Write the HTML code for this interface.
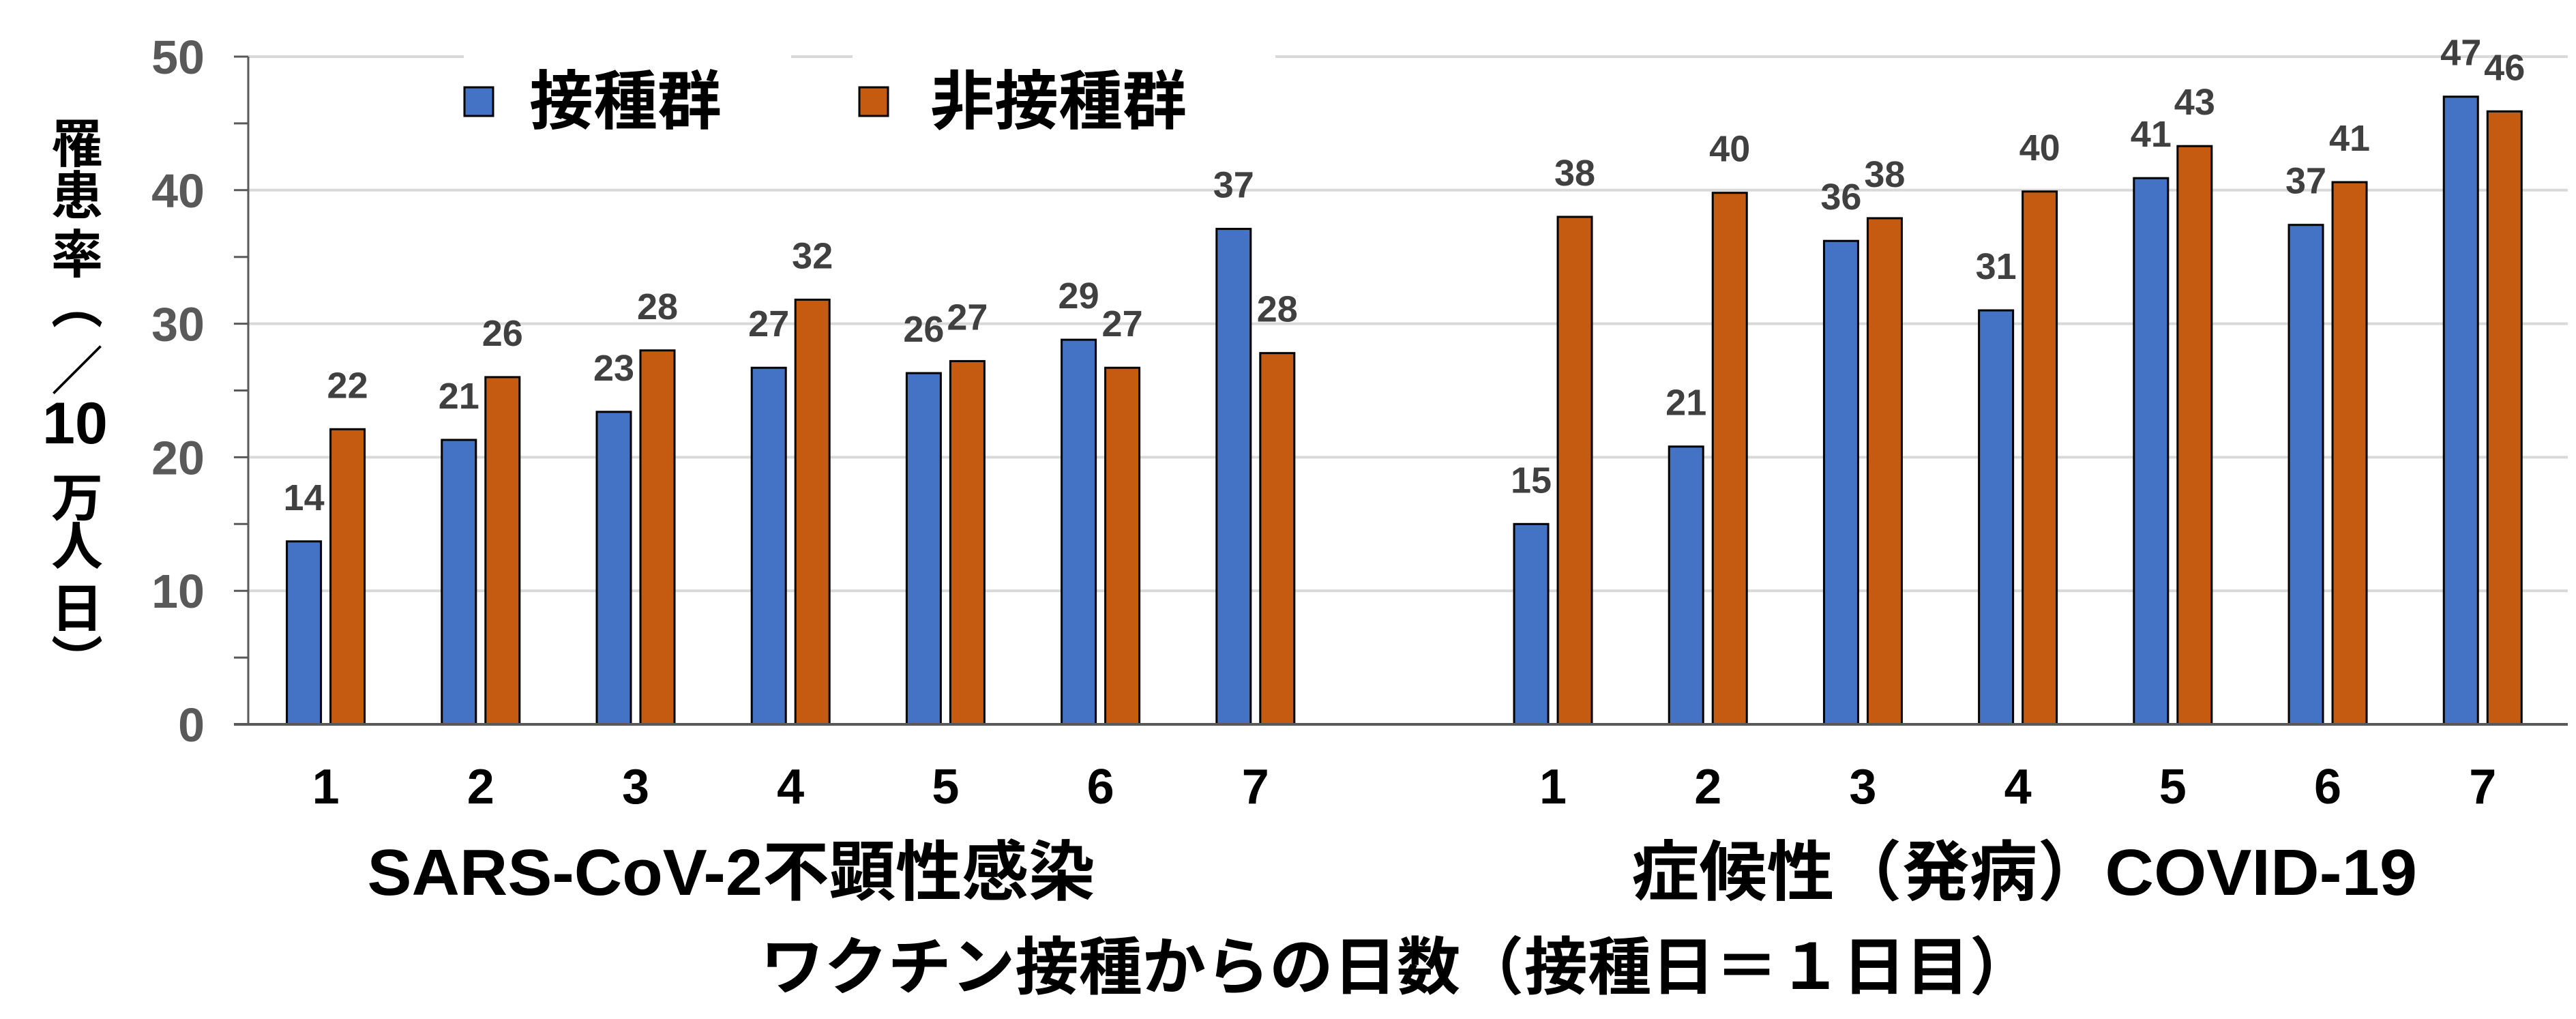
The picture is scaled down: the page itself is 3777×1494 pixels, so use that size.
<!DOCTYPE html>
<html><head><meta charset="utf-8"><style>
html,body{margin:0;padding:0;background:#fff;}
svg{display:block;font-family:"Liberation Sans","Noto Sans CJK JP",sans-serif;}
</style></head><body>
<svg id="chart" width="3777" height="1494" viewBox="0 0 3777 1494" xmlns="http://www.w3.org/2000/svg">
<g id="grid"></g><g id="bars"></g><g id="labels"></g>
<g>
<rect x="680" y="55" width="480" height="60" fill="#fff"/>
<rect x="1250" y="55" width="620" height="60" fill="#fff"/>
<rect x="681" y="128" width="42" height="42" fill="#4472C4" stroke="#000" stroke-width="3"/>
<text x="776" y="181" font-size="94" font-weight="bold" fill="#000">接種群</text>
<rect x="1260" y="128" width="42" height="42" fill="#C55A11" stroke="#000" stroke-width="3"/>
<text x="1364" y="181" font-size="94" font-weight="bold" fill="#000">非接種群</text>
</g>
<g font-weight="bold" font-size="76" text-anchor="middle" fill="#000">
<text x="113" y="238">罹</text><text x="113" y="314">患</text><text x="113" y="400">率</text>
<text x="113" y="474">︵</text><text x="113" y="571">／</text>
<text x="110" y="650" font-size="86">10</text>
<text x="113" y="757">万</text><text x="113" y="828">人</text><text x="113" y="919">日</text><text x="113" y="996">︶</text>
</g>
<text x="1072" y="1312" font-size="96" font-weight="bold" text-anchor="middle" textLength="1067" lengthAdjust="spacingAndGlyphs">SARS-CoV-2不顕性感染</text>
<text x="2968" y="1312" font-size="96" font-weight="bold" text-anchor="middle" textLength="1152" lengthAdjust="spacingAndGlyphs">症候性（発病）COVID-19</text>
<text x="2048" y="1450" font-size="92" font-weight="bold" text-anchor="middle" textLength="1866" lengthAdjust="spacingAndGlyphs">ワクチン接種からの日数（接種日＝１日目）</text>
</svg>
<script>
const categories = ["1","2","3","4","5","6","7"];
const yTicks = [0,10,20,30,40,50];
const vaxA = [13.7,21.3,23.4,26.7,26.3,28.8,37.1];
const unvaxA = [22.1,26.0,28.0,31.8,27.2,26.7,27.8];
const vaxB = [15.0,20.8,36.2,31.0,40.9,37.4,47.0];
const unvaxB = [38.0,39.8,37.9,39.9,43.3,40.6,45.9];
const labelVaxA = ["14","21","23","27","26","29","37"];
const labelUnvaxA = ["22","26","28","32","27","27","28"];
const labelVaxB = ["15","21","36","31","41","37","47"];
const labelUnvaxB = ["38","40","38","40","43","41","46"];

const NS="http://www.w3.org/2000/svg";
const plotL=364, plotR=3765, y0=1062, yTop=83, yMax=50, step=227.2;
function yScale(v){return y0-(v/yMax)*(y0-yTop);}
function xCenter(i){return plotL+(i+0.5)*step;}
function mk(tag,attrs,parent){const e=document.createElementNS(NS,tag);for(const k in attrs)e.setAttribute(k,attrs[k]);parent.appendChild(e);return e;}
const grid=document.getElementById('grid'), bars=document.getElementById('bars'), labels=document.getElementById('labels');

yTicks.forEach(t=>{
  const y=yScale(t);
  if(t>0){const g=mk('line',{x1:plotL,x2:plotR,y1:y,y2:y,stroke:'#d9d9d9','stroke-width':4},grid);
  
  }
  const tx=mk('text',{x:300,y:y+25,'font-size':70,'font-weight':'bold',fill:'#595959','text-anchor':'end'},labels);
  tx.textContent=t;
  
  
});
for(let t=0;t<=yMax;t+=5){const y=yScale(t);mk('line',{x1:343,x2:plotL,y1:y,y2:y,stroke:'#595959','stroke-width':3},grid);}
const ya=mk('line',{x1:plotL,x2:plotL,y1:yTop,y2:y0,stroke:'#595959','stroke-width':3},grid);



function drawGroup(offset,vals,labs,color,dx,name){
  vals.forEach((v,i)=>{
    const cx=xCenter(i+offset)+dx, top=yScale(v);
    const r=mk('rect',{x:cx-25,y:top,width:50,height:y0-top,fill:color,stroke:'#000','stroke-width':3},bars);
    
    
    const t=mk('text',{x:cx,y:top-46,'font-size':54,'font-weight':'bold',fill:'#404040','text-anchor':'middle'},labels);
    t.textContent=labs[i];
    
    
  });
}
const rightOffset = 7.92;
drawGroup(0,vaxA,labelVaxA,'#4472C4',-32,'vaccinated-asymptomatic');
drawGroup(0,unvaxA,labelUnvaxA,'#C55A11',32,'unvaccinated-asymptomatic');
drawGroup(rightOffset,vaxB,labelVaxB,'#4472C4',-32,'vaccinated-symptomatic');
drawGroup(rightOffset,unvaxB,labelUnvaxB,'#C55A11',32,'unvaccinated-symptomatic');

const xa=mk('line',{x1:343,x2:plotR,y1:y0,y2:y0,stroke:'#595959','stroke-width':4},bars);


[0,rightOffset].forEach(off=>categories.forEach((c,i)=>{
  const t=mk('text',{x:xCenter(i+off),y:1178,'font-size':72,'font-weight':'bold',fill:'#000','text-anchor':'middle'},labels);
  t.textContent=c;
  
  
}));
</script>
</body></html>
